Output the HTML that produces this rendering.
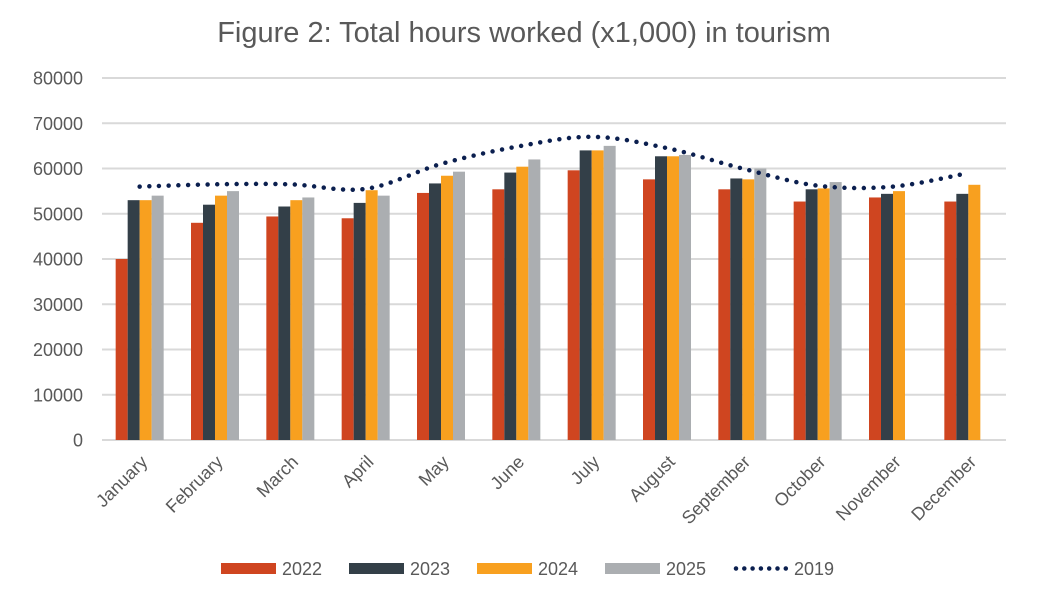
<!DOCTYPE html>
<html><head><meta charset="utf-8"><style>
html,body{margin:0;padding:0;background:#fff;}
svg{display:block;font-family:"Liberation Sans",sans-serif;}
</style></head><body>
<svg id="chart" width="1051" height="606" viewBox="0 0 1051 606" xmlns="http://www.w3.org/2000/svg">
<text x="524" y="42" text-anchor="middle" font-size="29" fill="#595959">Figure 2: Total hours worked (x1,000) in tourism</text>
<g id="grid"></g><g id="bars"></g><g id="line"></g><g id="xlabels"></g><g id="legend"></g>
</svg>
<script>
const categories=["January","February","March","April","May","June","July","August","September","October","November","December"];
const s2022=[40000,48000,49400,49000,54600,55400,59600,57600,55400,52700,53600,52700];
const s2023=[53000,52000,51600,52400,56700,59100,64000,62700,57800,55400,54400,54400];
const s2024=[53000,54000,53000,55200,58400,60400,64000,62700,57600,55600,55000,56400];
const s2025=[54000,55000,53600,54000,59300,62000,65000,63000,60000,57000,null,null];
const s2019=[56000,56500,56500,55500,61000,64800,67000,64500,60000,56200,56000,59000];
const yTicks=[0,10000,20000,30000,40000,50000,60000,70000,80000];
const seriesNames=["2022","2023","2024","2025"];
const seriesColors=["#CF4520","#333F48","#F8A01F","#ABAEB1"];
const NS="http://www.w3.org/2000/svg";
const x0=102,x1=1006,y0=440,y1=78,yMax=80000;
const cw=(x1-x0)/categories.length, bw=12;
function ys(v){return y0-(v/yMax)*(y0-y1);}
function xc(i){return x0+cw*(i+0.5);}
function mk(tag,attrs,parent){const e=document.createElementNS(NS,tag);for(const k in attrs)e.setAttribute(k,attrs[k]);parent.appendChild(e);return e;}
const grid=document.getElementById('grid');
yTicks.forEach(t=>{
  const l=mk('line',{x1:x0,x2:x1,y1:ys(t),y2:ys(t),stroke:'#D9D9D9','stroke-width':2},grid);
  
  
  const tx=mk('text',{x:83,y:ys(t)+6.5,'text-anchor':'end','font-size':18,fill:'#595959'},grid);
  tx.textContent=t;
  
  
});
const bars=document.getElementById('bars');
const all=[s2022,s2023,s2024,s2025];
categories.forEach((c,i)=>{
  all.forEach((s,j)=>{
    if(s[i]==null)return;
    const r=mk('rect',{x:xc(i)-2*bw+j*bw,y:ys(s[i]),width:bw,height:y0-ys(s[i]),fill:seriesColors[j]},bars);
    
    
  });
  const tx=mk('text',{x:0,y:0,'text-anchor':'end','font-size':18,fill:'#595959',transform:`translate(${xc(i)+9},${y0+23}) rotate(-45)`},document.getElementById('xlabels'));
  tx.textContent=c;
  
  
});
const pts=s2019.map((v,i)=>[xc(i),ys(v)]);
let d=`M${pts[0][0]},${pts[0][1]}`;
for(let i=0;i<pts.length-1;i++){
  const p0=pts[i-1]||pts[i],p1=pts[i],p2=pts[i+1],p3=pts[i+2]||p2;
  const t=1/6;
  d+=` C${p1[0]+(p2[0]-p0[0])*t},${p1[1]+(p2[1]-p0[1])*t} ${p2[0]-(p3[0]-p1[0])*t},${p2[1]-(p3[1]-p1[1])*t} ${p2[0]},${p2[1]}`;
}
const ln=mk('path',{d:d,fill:'none',stroke:'#0B1F4F','stroke-width':4.5,'stroke-linecap':'round','stroke-dasharray':'0 9.7'},document.getElementById('line'));


const lg=document.getElementById('legend');
const legItems=[...seriesNames,"2019"];
legItems.forEach((n,k)=>{
  const lx=221+k*128;
  if(k<4){
    const r=mk('rect',{x:lx,y:563,width:55,height:11,fill:seriesColors[k]},lg);
    
    
  } else {
    const l=mk('line',{x1:lx+3,x2:lx+53,y1:568.5,y2:568.5,stroke:'#0B1F4F','stroke-width':4.5,'stroke-linecap':'round','stroke-dasharray':'0 8.3'},lg);
    
    
  }
  const t=mk('text',{x:lx+61,y:575,'font-size':18,fill:'#595959'},lg);
  t.textContent=n;
  
  
});
</script>
</body></html>
